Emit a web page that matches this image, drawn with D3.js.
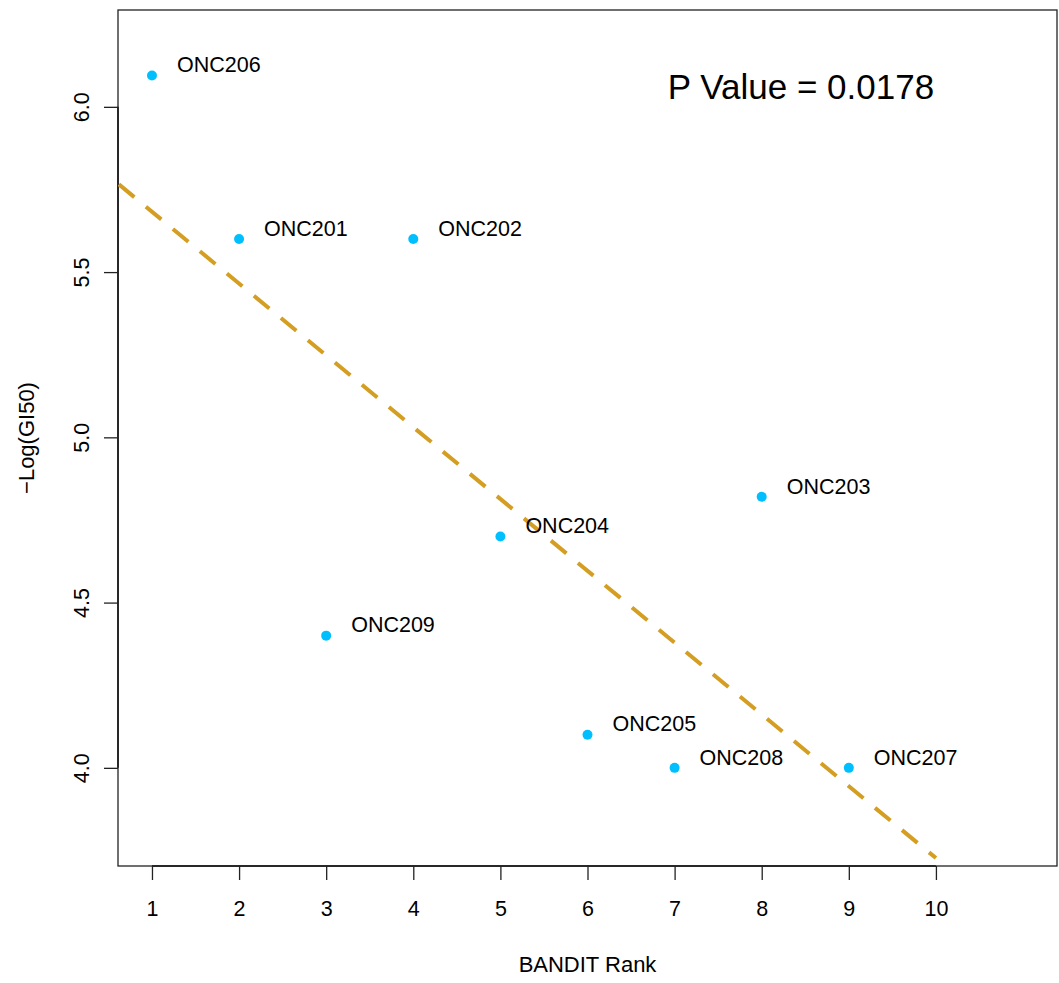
<!DOCTYPE html>
<html><head><meta charset="utf-8">
<script src="https://cdn.jsdelivr.net/npm/d3@7"></script>
<style>body{margin:0;background:#fff}svg{display:block}text{font-family:"Liberation Sans",Arial,Helvetica,sans-serif}</style>
</head><body>
<script>
const compounds = ["ONC206","ONC201","ONC209","ONC202","ONC204","ONC205","ONC208","ONC203","ONC207"];
const ranks = [1,2,3,4,5,6,7,8,9];
const gi50 = [6.095,5.6,4.4,5.6,4.7,4.1,4.0,4.82,4.0];
const xTicks = [1,2,3,4,5,6,7,8,9,10];
const yTicks = [4.0,4.5,5.0,5.5,6.0];
const fitIntercept = 5.900, fitSlope = -0.2173;
const fitRange = [0, 10];
const pValueText = "P Value = 0.0178";

const W = 1059, H = 983;
const L = 118, R = 1057, T = 10, B = 866;
const FS = 21.5;
const svg = d3.select("body").append("svg").attr("width", W).attr("height", H);
const x = d3.scaleLinear().domain([0.61, 11.39]).range([L, R]);
const y = d3.scaleLinear().domain([3.703, 6.293]).range([B, T]);

svg.append("clipPath").attr("id","clip").append("rect").attr("x",L).attr("y",T).attr("width",R-L).attr("height",B-T);

// box
svg.append("rect").attr("x",L).attr("y",T).attr("width",R-L).attr("height",B-T)
  .attr("fill","none").attr("stroke","#222").attr("stroke-width",1.3);

// axes
const xAxis = svg.append("g").attr("transform",`translate(0,${B})`)
  .call(d3.axisBottom(x).tickValues(xTicks).tickFormat(d3.format("d")).tickSize(14).tickSizeOuter(0));
xAxis.select(".domain").attr("d", `M${x(1)},0H${x(10)}`).attr("stroke","#111").attr("stroke-width",1.5);
xAxis.selectAll(".tick line").attr("stroke","#222").attr("stroke-width",1.3);
xAxis.selectAll(".tick text").attr("font-size",FS).attr("fill","#000")
  .attr("font-family","Liberation Sans, Arial, sans-serif")
  .attr("y",44).attr("dy",null).attr("dominant-baseline","middle");

const yAxis = svg.append("g").attr("transform",`translate(${L},0)`)
  .call(d3.axisLeft(y).tickValues(yTicks).tickFormat(d3.format(".1f")).tickSize(14).tickSizeOuter(0));
yAxis.select(".domain").attr("d", `M0,${y(4.0)}V${y(6.0)}`).attr("stroke","#111").attr("stroke-width",1.5);
yAxis.selectAll(".tick line").attr("stroke","#222").attr("stroke-width",1.3);
yAxis.selectAll(".tick text").attr("font-size",FS).attr("fill","#000")
  .attr("font-family","Liberation Sans, Arial, sans-serif")
  .attr("x",null).attr("dy",null)
  .attr("transform","translate(-35,0) rotate(-90)")
  .attr("text-anchor","middle").attr("dominant-baseline","middle");

// regression line
svg.append("line").attr("clip-path","url(#clip)")
  .attr("x1", x(fitRange[0])).attr("y1", y(fitIntercept + fitSlope*fitRange[0]))
  .attr("x2", x(fitRange[1])).attr("y2", y(fitIntercept + fitSlope*fitRange[1]))
  .attr("stroke","#D39E22").attr("stroke-width",4).attr("stroke-dasharray","20,15");

// points
const data = compounds.map((c,i)=>({c, r:ranks[i], v:gi50[i]}));
svg.selectAll("circle.pt").data(data).join("circle").attr("class","pt")
  .attr("cx",d=>x(d.r)).attr("cy",d=>y(d.v)).attr("r",5).attr("fill","#00BFFF");
svg.selectAll("text.lab").data(data).join("text").attr("class","lab")
  .attr("x",d=>x(d.r)+25).attr("y",d=>y(d.v)-9)
  .attr("dominant-baseline","middle").attr("font-size",FS).attr("fill","#000").text(d=>d.c);

// p value
svg.append("text").attr("x",801).attr("y",90).attr("text-anchor","middle")
  .attr("dominant-baseline","middle").attr("font-size",35).attr("fill","#000").text(pValueText);

// axis titles
svg.append("text").attr("x",(L+R)/2).attr("y",966).attr("text-anchor","middle")
  .attr("dominant-baseline","middle").attr("font-size",22).text("BANDIT Rank");
svg.append("text").attr("transform",`translate(28,${(T+B)/2}) rotate(-90)`).attr("text-anchor","middle")
  .attr("dominant-baseline","middle").attr("font-size",22).text("\u2212Log(GI50)");
</script>
</body></html>
